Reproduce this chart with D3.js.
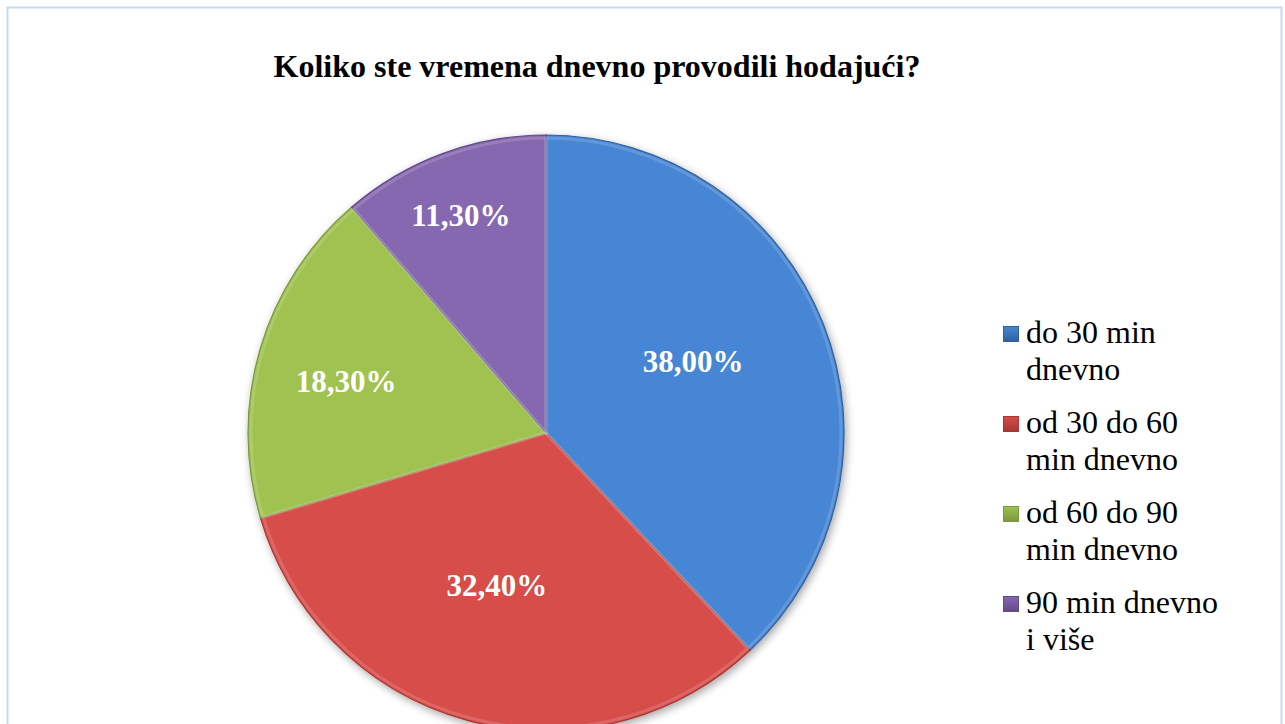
<!DOCTYPE html>
<html>
<head>
<meta charset="utf-8">
<script src="https://d3js.org/d3.v7.min.js"></script>
<style>
  body { margin: 0; background: #fff; }
</style>
</head>
<body>
<div id="chart"></div>
<script>
  var width = 1285, height = 724;
  var font = "'Liberation Serif', 'Times New Roman', serif";

  var categories = ["do 30 min dnevno", "od 30 do 60 min dnevno", "od 60 do 90 min dnevno", "90 min dnevno i više"];
  var legendLines = [["do 30 min", "dnevno"], ["od 30 do 60", "min dnevno"], ["od 60 do 90", "min dnevno"], ["90 min dnevno", "i više"]];
  var values = [38.0, 32.4, 18.3, 11.3];
  var labels = ["38,00%", "32,40%", "18,30%", "11,30%"];
  var colorsLight = ["#4686d4", "#d64d49", "#9fc251", "#8667b0"];
  var colorsDark = ["#30609e", "#a83633", "#7c983a", "#624a8a"];

  var svg = d3.select("#chart").append("svg")
    .attr("width", width)
    .attr("height", height)
    .style("font-family", font);

  var defs = svg.append("defs");

  // chart area border
  svg.append("rect")
    .attr("x", 7.5).attr("y", 7.5)
    .attr("width", 1274).attr("height", 730)
    .attr("fill", "#fff")
    .attr("stroke", "#c6d9f1")
    .attr("stroke-width", 2);

  svg.append("text")
    .attr("x", 597).attr("y", 77)
    .attr("text-anchor", "middle")
    .attr("font-size", 32)
    .attr("font-weight", "bold")
    .text("Koliko ste vremena dnevno provodili hodajući?");

  var cx = 546, cy = 433, r = 298;

  categories.forEach(function(c, i) {
    var g = defs.append("linearGradient")
      .attr("id", "grad" + i)
      .attr("gradientUnits", "userSpaceOnUse")
      .attr("x1", cx - r * 0.4).attr("y1", cy - r)
      .attr("x2", cx + r * 0.4).attr("y2", cy + r);
    g.append("stop").attr("offset", "0%").attr("stop-color", colorsLight[i]);
    g.append("stop").attr("offset", "100%").attr("stop-color", colorsDark[i]);
    var lg = defs.append("linearGradient")
      .attr("id", "lgrad" + i)
      .attr("x1", 0).attr("y1", 0).attr("x2", 0).attr("y2", 1);
    lg.append("stop").attr("offset", "0%").attr("stop-color", colorsLight[i]);
    lg.append("stop").attr("offset", "100%").attr("stop-color", colorsDark[i]);
  });

  var shadow = defs.append("filter").attr("id", "shadow")
    .attr("x", "-10%").attr("y", "-10%").attr("width", "120%").attr("height", "120%");
  shadow.append("feGaussianBlur").attr("in", "SourceAlpha").attr("stdDeviation", 4);
  shadow.append("feOffset").attr("dx", 2).attr("dy", 3).attr("result", "b");
  shadow.append("feComponentTransfer").append("feFuncA").attr("type", "linear").attr("slope", 0.35);
  var merge = shadow.append("feMerge");
  merge.append("feMergeNode");
  merge.append("feMergeNode").attr("in", "SourceGraphic");

  var pie = d3.pie().sort(null).value(function(d) { return d; });
  var arcs = pie(values);
  var arc = d3.arc().innerRadius(0).outerRadius(r);
  var bevel = d3.arc().innerRadius(0).outerRadius(r - 3);

  var g = svg.append("g").attr("transform", "translate(" + cx + "," + cy + ")");

  var slices = g.append("g").attr("filter", "url(#shadow)");
  slices.selectAll("path.slice")
    .data(arcs)
    .enter().append("path")
    .attr("class", "slice")
    .attr("d", arc)
    .attr("fill", function(d, i) { return "url(#grad" + i + ")"; })
    .attr("stroke", function(d, i) { return colorsDark[i]; })
    .attr("stroke-width", 1.2);

  // soft bevel highlight
  g.selectAll("path.bevel")
    .data(arcs)
    .enter().append("path")
    .attr("class", "bevel")
    .attr("d", bevel)
    .attr("fill", "none")
    .attr("stroke", "#fff")
    .attr("stroke-opacity", 0.15)
    .attr("stroke-width", 3);

  // label placement: share of radius and angle nudge (deg) from the slice bisector
  var labelRadius = [0.548, 0.536, 0.693, 0.785];
  var labelNudge = [-4.2, 2.8, -1.8, -1.0];
  g.selectAll("text.lbl")
    .data(arcs)
    .enter().append("text")
    .attr("class", "lbl")
    .attr("transform", function(d, i) {
      var a = (d.startAngle + d.endAngle) / 2 + labelNudge[i] * Math.PI / 180;
      var rr = r * labelRadius[i];
      return "translate(" + (rr * Math.sin(a)) + "," + (-rr * Math.cos(a)) + ")";
    })
    .attr("text-anchor", "middle")
    .attr("dy", "0.34em")
    .attr("fill", "#fff")
    .attr("font-size", 31)
    .attr("font-weight", "bold")
    .text(function(d, i) { return labels[i]; });

  var legend = svg.append("g").attr("transform", "translate(1003,0)");
  var ly = d3.scalePoint().domain(d3.range(categories.length)).range([343, 613]);
  legendLines.forEach(function(lines, i) {
    var y = ly(i);
    legend.append("rect")
      .attr("x", 0.5).attr("y", y - 16.5)
      .attr("width", 15).attr("height", 15)
      .attr("fill", "url(#lgrad" + i + ")")
      .attr("stroke", colorsDark[i])
      .attr("stroke-width", 1);
    lines.forEach(function(t, j) {
      legend.append("text")
        .attr("x", 23).attr("y", y + j * 36.5)
        .attr("font-size", 32)
        .attr("fill", "#000")
        .text(t);
    });
  });
</script>
</body>
</html>
